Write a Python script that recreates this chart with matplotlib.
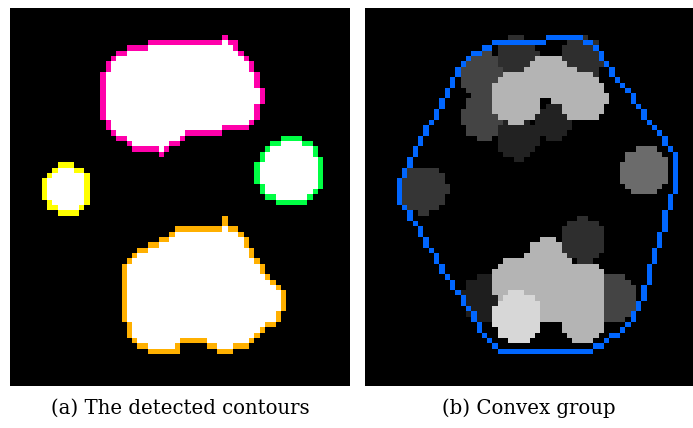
import numpy as np
import matplotlib
matplotlib.use("Agg")
import matplotlib.pyplot as plt
from matplotlib.path import Path

# image grid (columns, rows)
W, H = 64, 71

# outlines of the two large blobs, grid units (col, row)
top_blob = [(25.8, 6.2), (40.2, 6.2), (40.2, 5.3), (40.9, 5.3), (40.9, 6.2), (42.7, 6.2),
            (43.6, 7.7), (44.8, 8.8), (45.8, 10.4), (46.5, 12.0), (47.1, 14.8), (48.0, 14.9),
            (48.0, 17.9), (47.1, 18.3), (47.1, 20.7), (46.1, 21.7), (44.6, 22.6), (42.0, 23.3),
            (34.5, 24.1), (32.6, 24.8), (31.6, 26.1), (29.2, 26.9), (29.2, 27.7), (27.7, 27.7),
            (27.5, 26.9), (23.2, 26.7), (23.0, 26.0), (21.5, 25.2), (19.8, 24.3), (18.8, 23.3),
            (18.1, 21.7), (17.3, 21.4), (17.3, 12.0), (18.1, 10.4), (18.8, 9.8), (19.8, 8.8),
            (21.6, 7.9), (22.6, 7.2), (25.8, 6.9)]
bottom_blob = [(33.5, 40.5), (40.2, 40.5), (40.2, 39.4), (40.9, 39.4), (40.9, 40.5), (42.7, 40.5),
               (43.6, 42.1), (44.6, 43.1), (45.3, 45.0), (46.3, 46.5), (47.2, 47.4), (48.0, 49.1),
               (48.8, 50.1), (50.5, 51.8), (51.4, 53.4), (52.1, 53.6), (52.1, 55.9), (51.4, 57.4),
               (50.5, 58.7), (48.8, 60.3), (47.2, 61.2), (46.3, 62.2), (44.6, 63.8), (42.0, 64.5),
               (42.0, 65.3), (39.5, 65.3), (39.5, 64.5), (36.7, 63.8), (36.7, 63.1), (33.5, 63.1),
               (31.6, 63.8), (31.6, 65.3), (25.8, 65.3), (25.8, 64.5), (23.9, 63.8), (23.2, 62.8),
               (22.3, 61.2), (21.5, 58.7), (20.7, 58.2), (20.7, 51.8), (21.5, 48.4), (22.3, 47.3),
               (23.2, 46.5), (23.9, 45.7), (24.8, 45.0), (26.7, 44.2), (28.1, 43.1), (30.0, 42.3),
               (30.9, 41.4), (33.5, 41.4)]
# round blobs: centre col, centre row, radius
round_blobs = [(10.7, 34.1, 4.8), (52.7, 30.7, 6.5)]
contour_colors = [(255, 0, 170), (255, 176, 0), (255, 255, 0), (0, 255, 68)]

# grey components of the grouping, in paint order: col, row, radius, grey level
disc_col = [22.5, 22.5, 28.7, 40.8, 28.7, 35.6, 28.5, 34.5, 36.5, 41.0,
            22.9, 47.0, 34.6, 28.7, 40.8, 35.0, 41.0, 41.1, 28.7,
            11.1, 52.7]
disc_row = [12.8, 20.5, 9.2, 9.5, 24.6, 21.4, 16.8, 13.0, 14.0, 16.8,
            54.7, 54.7, 47.6, 51.5, 52.2, 54.2, 58.3, 43.6, 58.1,
            34.1, 30.7]
disc_rad = [4.6, 4.3, 3.9, 4.2, 4.0, 3.4, 5.0, 4.3, 4.0, 4.6,
            4.7, 4.5, 4.4, 4.9, 4.7, 4.8, 4.5, 4.2, 4.8,
            4.6, 4.7]
disc_grey = [0x44, 0x44, 0x2e, 0x2e, 0x22, 0x22, 0xb4, 0xb4, 0xb4, 0xb4,
             0x1e, 0x44, 0xb4, 0xb4, 0xb4, 0xb4, 0xb4, 0x2e, 0xd7,
             0x35, 0x6b]
hull_color = (0, 102, 255)

captions = ["(a) The detected contours", "(b) Convex group"]

rows, cols = np.mgrid[0:H, 0:W]
centres = np.column_stack([cols.ravel() + 0.5, rows.ravel() + 0.5])


def poly_mask(pts):
    return Path(pts).contains_points(centres).reshape(H, W)


def disc_mask(cx, cy, r):
    return (cols + 0.5 - cx) ** 2 + (rows + 0.5 - cy) ** 2 <= r ** 2


def border(mask):
    p = np.pad(mask, 1)
    inner = p[:-2, 1:-1] & p[2:, 1:-1] & p[1:-1, :-2] & p[1:-1, 2:]
    return mask & ~inner


def convex_hull(pts):
    pts = sorted(set(pts))
    def cross(o, a, b):
        return (a[0] - o[0]) * (b[1] - o[1]) - (a[1] - o[1]) * (b[0] - o[0])
    lower, upper = [], []
    for p in pts:
        while len(lower) >= 2 and cross(lower[-2], lower[-1], p) <= 0:
            lower.pop()
        lower.append(p)
    for p in reversed(pts):
        while len(upper) >= 2 and cross(upper[-2], upper[-1], p) <= 0:
            upper.pop()
        upper.append(p)
    return lower[:-1] + upper[:-1]


blobs = [poly_mask(top_blob), poly_mask(bottom_blob)] + [disc_mask(*b) for b in round_blobs]

# left: white blobs with their contour pixels coloured
left = np.zeros((H, W, 3), dtype=np.uint8)
for m in blobs:
    left[m] = 255
for m, c in zip(blobs, contour_colors):
    left[border(m)] = c

# right: grey components plus the hull of every contour
right = np.zeros((H, W, 3), dtype=np.uint8)
for cx, cy, r, g in zip(disc_col, disc_row, disc_rad, disc_grey):
    right[disc_mask(cx, cy, r)] = g

on = np.argwhere(np.any(blobs, axis=0))
hull = convex_hull([(int(c), int(r)) for r, c in on])
for (x0, y0), (x1, y1) in zip(hull, hull[1:] + hull[:1]):
    n = max(abs(x1 - x0), abs(y1 - y0)) + 1
    xs = np.rint(np.linspace(x0, x1, n)).astype(int)
    ys = np.rint(np.linspace(y0, y1, n)).astype(int)
    right[ys, xs] = hull_color

fig = plt.figure(figsize=(6.93, 4.28), dpi=100)
ax1 = fig.add_axes([10 / 693, 42 / 428, 340 / 693, 378 / 428])
ax2 = fig.add_axes([365 / 693, 42 / 428, 328 / 693, 378 / 428])
for ax, img in [(ax1, left), (ax2, right)]:
    ax.imshow(img, interpolation="nearest", aspect="auto", extent=(0, W, H, 0))
    ax.set_axis_off()
ax2.set_xlim(0, 328 / 340 * W)

fig.text(180 / 693, 1 - 408 / 428, captions[0], ha="center", va="center",
         family="DejaVu Serif", fontsize=14.2)
fig.text(529 / 693, 1 - 408 / 428, captions[1], ha="center", va="center",
         family="DejaVu Serif", fontsize=14.2)

fig.savefig("out.png", dpi=100)
